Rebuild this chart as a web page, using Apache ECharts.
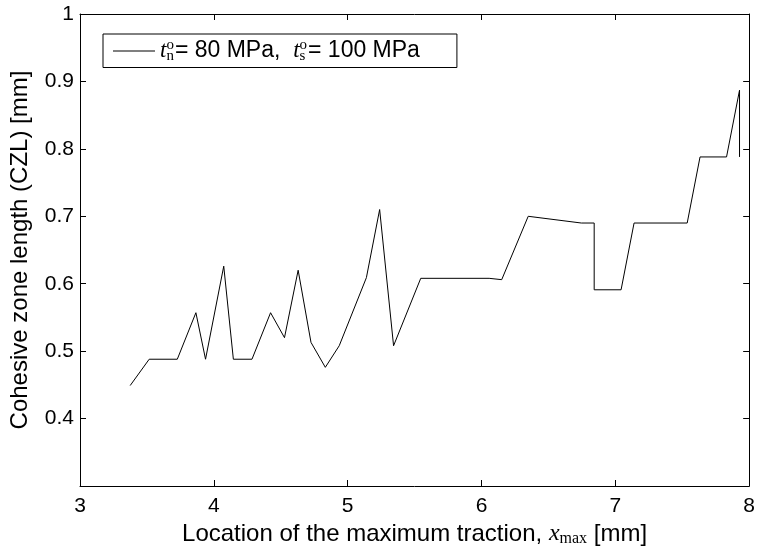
<!DOCTYPE html>
<html>
<head>
<meta charset="utf-8">
<script src="https://cdn.jsdelivr.net/npm/echarts@6/dist/echarts.min.js"></script>
<style>
  html, body { margin: 0; padding: 0; background: #fff; }
  #chart { width: 758px; height: 552px; }
</style>
</head>
<body>
<div id="chart"></div>
<script>
// location of the maximum traction [mm]
const xMax = [3.375, 3.517, 3.727, 3.866, 3.938, 4.074, 4.146, 4.285, 4.424, 4.528,
  4.630, 4.726, 4.833, 4.937, 5.140, 5.239, 5.343, 5.546, 6.057, 6.151,
  6.349, 6.746, 6.842, 6.842, 7.043, 7.140, 7.537, 7.633, 7.831, 7.928, 7.928];
// cohesive zone length [mm]
const czl = [0.449, 0.488, 0.488, 0.557, 0.488, 0.626, 0.488, 0.488, 0.557, 0.520,
  0.620, 0.513, 0.476, 0.508, 0.609, 0.710, 0.508, 0.608, 0.608, 0.606,
  0.700, 0.690, 0.690, 0.591, 0.591, 0.690, 0.690, 0.788, 0.788, 0.887, 0.788];

const xTicks = { min: 3, max: 8, interval: 1 };
const yTicks = { min: 0.3, max: 1, interval: 0.1 };

const font = 'Liberation Sans, Arial, sans-serif';
const serif = 'Liberation Serif, Times New Roman, serif';

const chart = echarts.init(document.getElementById('chart'));

const tick = { inside: true, length: 6, lineStyle: { color: '#000' } };
const line = { show: true, lineStyle: { color: '#000', width: 1 } };

const option = {
  animation: false,
  backgroundColor: '#fff',
  grid: { left: 79, right: 6, top: 14, bottom: 66 },
  legend: {
    left: 103,
    top: 34,
    padding: [4, 37, 4, 10],
    borderColor: '#000',
    borderWidth: 1,
    icon: 'rect',
    itemWidth: 42,
    itemHeight: 1,
    data: [{ name: 'czl', itemStyle: { color: '#000' } }],
    formatter: () => '{i|t}{sub|n}{sup|o}{r|= 80 MPa,  }{i|t}{sub|s}{sup|o}{r|= 100 MPa}',
    textStyle: {
      color: '#000',
      fontFamily: font,
      fontSize: 23,
      rich: {
        r: { fontFamily: font, fontSize: 23, color: '#000' },
        i: { fontFamily: serif, fontStyle: 'italic', fontSize: 23, color: '#000' },
        sub: { fontFamily: serif, fontSize: 15, color: '#000', width: 0, padding: [10, 0, 0, 0] },
        sup: { fontFamily: serif, fontSize: 15, color: '#000', padding: [0, 1, 11, 0] }
      }
    }
  },
  xAxis: [{
    type: 'value',
    min: xTicks.min, max: xTicks.max, interval: xTicks.interval,
    axisLine: line, axisTick: tick, splitLine: { show: false },
    axisLabel: { color: '#000', fontFamily: font, fontSize: 21, margin: 10 },
    name: '{r|Location of the maximum traction, }{x|x}{s|max}{r| [mm]}',
    nameLocation: 'middle',
    nameGap: 33,
    nameTextStyle: {
      rich: {
        r: { fontFamily: font, fontSize: 24, color: '#000' },
        x: { fontFamily: serif, fontStyle: 'italic', fontSize: 24, color: '#000' },
        s: { fontFamily: serif, fontSize: 16, color: '#000', padding: [9, 0, 0, 0] }
      }
    }
  }, {
    type: 'value', position: 'top',
    min: xTicks.min, max: xTicks.max, interval: xTicks.interval,
    axisLine: line, axisTick: tick, axisLabel: { show: false }, splitLine: { show: false }
  }],
  yAxis: [{
    type: 'value',
    min: yTicks.min, max: yTicks.max, interval: yTicks.interval,
    axisLine: line, axisTick: tick, splitLine: { show: false },
    axisLabel: {
      color: '#000', fontFamily: font, fontSize: 21, margin: 6,
      formatter: v => {
        const r = Math.round(v * 10) / 10;
        if (r <= 0.3) return '';
        return r === 1 ? '1' : r.toFixed(1);
      }
    },
    name: 'Cohesive zone length (CZL) [mm]',
    nameLocation: 'middle',
    nameGap: 48,
    nameTextStyle: { color: '#000', fontFamily: font, fontSize: 24 }
  }, {
    type: 'value', position: 'right',
    min: yTicks.min, max: yTicks.max, interval: yTicks.interval,
    axisLine: line, axisTick: tick, axisLabel: { show: false }, splitLine: { show: false }
  }],
  series: [{
    name: 'czl',
    type: 'line',
    showSymbol: false,
    symbol: 'none',
    color: '#000',
    lineStyle: { color: '#000', width: 1 },
    data: xMax.map((x, i) => [x, czl[i]])
  }]
};

chart.setOption(option);
</script>
</body>
</html>
